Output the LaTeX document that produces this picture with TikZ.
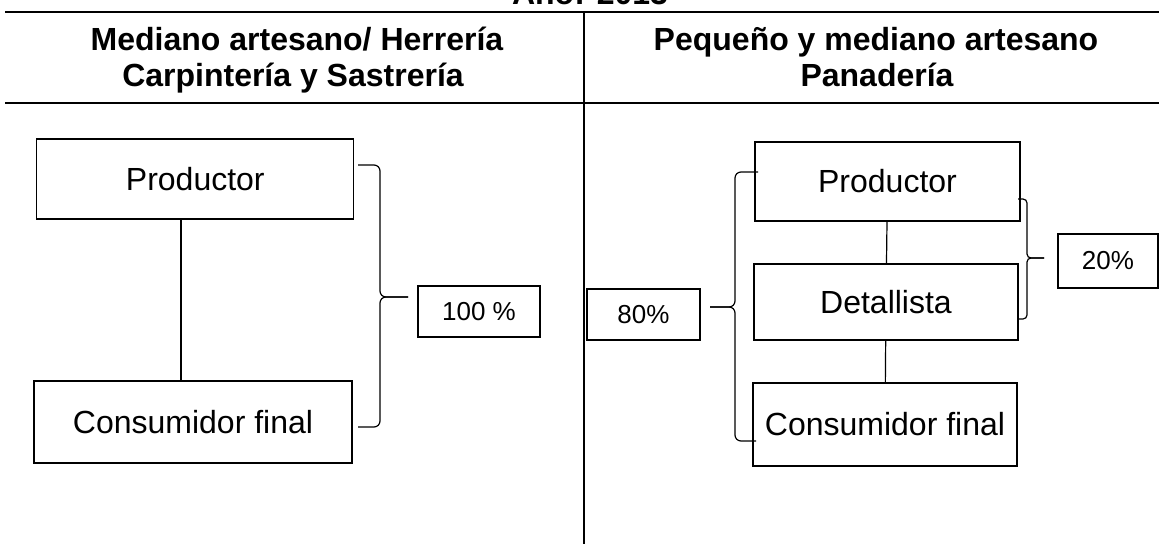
\documentclass[tikz,border=0pt]{standalone}
\usepackage{fontspec}
\setmainfont{Liberation Sans}
\usetikzlibrary{calc}

\begin{document}
\begin{tikzpicture}[x=1pt, y=-1pt,
    caja/.style={draw, line width=1.2pt, inner sep=0pt, font=\fontsize{32}{38}\selectfont},
    porc/.style={draw, line width=2pt, inner sep=0pt, font=\fontsize{26}{30}\selectfont},
    llave/.style={line width=1.2pt, rounded corners=6pt},
    titulo/.style={anchor=base, font=\bfseries\fontsize{32}{38}\selectfont}]
  \useasboundingbox (0,0) rectangle (1159,544);

  % table
  \node[titulo] at (590,4) (anio) {Año: 2013};
  \draw[line width=1.8pt] (5,12) -- (1159,12);
  \draw[line width=1.8pt] (5,103) -- (1159,103);
  \draw[line width=1.3pt] (584,12) -- (584,544);
  \node[titulo] at (297,50) (hizqA) {Mediano artesano/ Herrería};
  \node[titulo] at (293,86) (hizqB) {Carpintería y Sastrería};
  \node[titulo] at (876,50) (hderA) {Pequeño y mediano artesano};
  \node[titulo] at (877,86) (hderB) {Panadería};

  % left channel
  \node[caja, minimum width=317, minimum height=80] at (195.3,179) (prodA) {Productor};
  \node[caja, minimum width=318, minimum height=82] at (193,422) (consA) {Consumidor final};
  \draw[line width=1.2pt] ([xshift=-14.3pt]prodA.south) -- ([xshift=-12pt]consA.north);
  \node[porc, minimum width=122, minimum height=51] at (479,311.5) (cien) {100 \%};
  \draw[llave] (358,165) -| (380,297) -- (408,297);
  \draw[llave] (358,427) -| (380,297) -- (408,297);

  % right channel
  \node[caja, minimum width=265, minimum height=79] at (887.5,181.5) (prodB) {Productor};
  \node[caja, minimum width=264, minimum height=76] at (886,302) (detB) {Detallista};
  \node[caja, minimum width=264, minimum height=83] at (885,424.5) (consB) {Consumidor final};
  \draw[line width=1.2pt] (prodB) -- (detB);
  \draw[line width=1.2pt] (detB) -- (consB);
  \node[porc, minimum width=113, minimum height=51] at (643.5,314.5) (ochenta) {80\%};
  \draw[llave] (758,172) -| (735,307) -- (710,307);
  \draw[llave] (756,441) -| (735,307) -- (710,307);
  \node[porc, minimum width=100, minimum height=54] at (1108,261) (veinte) {20\%};
  \draw[llave, rounded corners=4pt] (1018,199) -| (1027,258) -- (1044,258);
  \draw[llave, rounded corners=4pt] (1018,319) -| (1027,258) -- (1044,258);

\end{tikzpicture}
\end{document}
